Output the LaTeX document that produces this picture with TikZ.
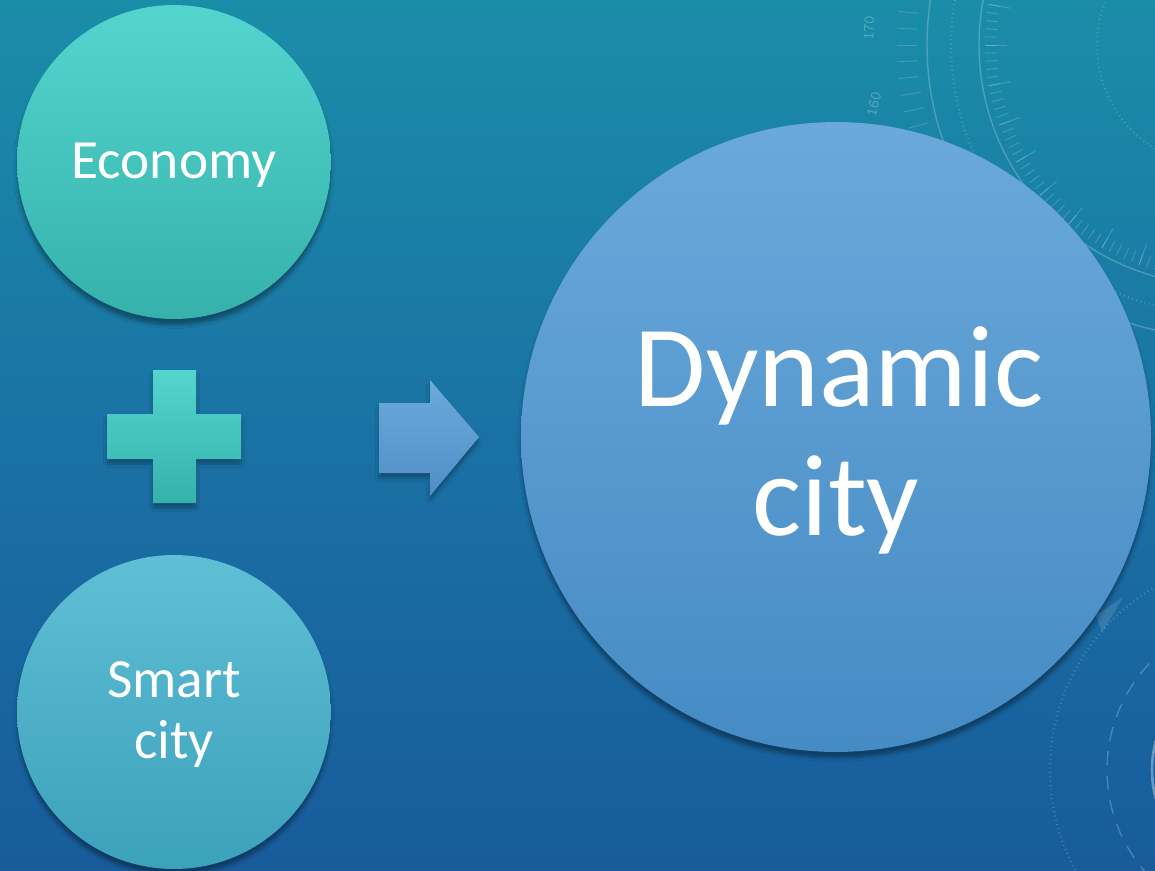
\documentclass[tikz,border=0pt]{standalone}
\usepackage{fontspec}
\setmainfont{Carlito}
\usetikzlibrary{shadows.blur,fadings}
\definecolor{bg0}{HTML}{1C9DA9}
\definecolor{bg1}{HTML}{1A8DA8}
\definecolor{bg2}{HTML}{1A72A4}
\definecolor{bg3}{HTML}{17579A}
\definecolor{bg4}{HTML}{14448B}
\definecolor{bgdark}{HTML}{112E78}
\definecolor{ecoTop}{HTML}{53D5CE}
\definecolor{ecoBot}{HTML}{36B1AC}
\definecolor{smTop}{HTML}{5FBFD5}
\definecolor{smBot}{HTML}{3CA1BB}
\definecolor{dynTop}{HTML}{6BA9DB}
\definecolor{dynBot}{HTML}{458BC4}
\definecolor{arrTop}{HTML}{6CA9DC}
\definecolor{arrBot}{HTML}{4F8FC7}
\pgfdeclareverticalshading{bgshade}{100bp}{color(0bp)=(bg4); color(20bp)=(bg3); color(50bp)=(bg2); color(75bp)=(bg1); color(100bp)=(bg0)}
\tikzset{
  bubble/.style={circle, draw=none, inner sep=0pt,
    blur shadow={shadow xshift=0pt, shadow yshift=-1.2mm, shadow blur steps=6, shadow opacity=35}},
  smalltxt/.style={text=white, font=\fontsize{31.5}{34.6}\selectfont, anchor=base, inner sep=0pt},
  bigtxt/.style={text=white, font=\fontsize{66}{72}\selectfont, anchor=base, inner sep=0pt},
  deco/.style={draw=white, opacity=0.22, line width=0.8pt},
  decothin/.style={draw=white, opacity=0.18, line width=0.5pt},
  dialtxt/.style={text=white, opacity=0.25, font=\ttfamily\fontsize{9}{9}\selectfont, inner sep=0pt}
}
\begin{document}
\begin{tikzpicture}[x=0.02cm, y=-0.02cm]
\useasboundingbox (0,0) rectangle (1155,870);
% background
\shade[shading=bgshade] (0,0) rectangle (1155,870);
% decorative dial top right
\begin{scope}[shift={(1219,45)}]
  \draw[deco] (0,0) circle (240);
  \draw[deco] (0,0) circle (292);
  \draw[decothin, dotted, line width=1.2pt] (0,0) circle (122);
  \draw[decothin, dotted, line width=1.4pt] (200:268) arc[start angle=200, end angle=100, radius=268];
  \foreach \a in {100,102,...,200} {\draw[decothin] (\a:222) -- (\a:234);}
  \foreach \a in {100,110,...,200} {\draw[decothin] (\a:212) -- (\a:234);}
  \foreach \a in {156,159,...,200} {\draw[decothin] (\a:302) -- (\a:322);}
\end{scope}
\node[dialtxt, rotate=88] (l170) at (869,28) {170};
\node[dialtxt, rotate=76] (l160) at (874,104) {160};
% decorative arcs bottom right
\begin{scope}[shift={(1262,770)}]
  \draw[deco, dashed, dash pattern=on 8pt off 6pt] (0,0) circle (155);
  \draw[decothin, dotted, line width=1.4pt] (0,0) circle (212);
  \draw[draw=white, opacity=0.35, line width=1.5pt] (0,0) circle (110);
\end{scope}
\fill[white, opacity=0.12] (1123,597) -- (1102,633) -- (1096,615) -- cycle;
% shapes
\node[bubble, minimum size=6.28cm, top color=ecoTop, bottom color=ecoBot] (eco) at (174,162) {};
\node[bubble, minimum size=6.28cm, top color=smTop, bottom color=smBot] (smart) at (174,712) {};
\node[bubble, minimum size=12.6cm, top color=dynTop, bottom color=dynBot] (dyn) at (836,437) {};
% plus sign
\shade[top color=ecoTop, bottom color=ecoBot,
  blur shadow={shadow xshift=0pt, shadow yshift=-1mm, shadow blur steps=5, shadow opacity=30}]
  (153,370) -- (196,370) -- (196,414) -- (241,414) -- (241,459) -- (196,459) -- (196,503)
  -- (153,503) -- (153,459) -- (107,459) -- (107,414) -- (153,414) -- cycle;
% arrow
\shade[top color=arrTop, bottom color=arrBot,
  blur shadow={shadow xshift=0pt, shadow yshift=-1mm, shadow blur steps=5, shadow opacity=30}]
  (379,403) -- (430,403) -- (430,380) -- (479,437) -- (430,496) -- (430,473) -- (379,473) -- cycle;
% texts
\node[smalltxt] (ecot) at (174,178) {Economy};
\node[smalltxt] (smt1) at (174,697) {Smart};
\node[smalltxt] (smt2) at (174,758) {city};
\node[bigtxt] (dynt1) at (839,406) {Dynamic};
\node[bigtxt] (dynt2) at (836,535) {city};
\end{tikzpicture}
\end{document}
